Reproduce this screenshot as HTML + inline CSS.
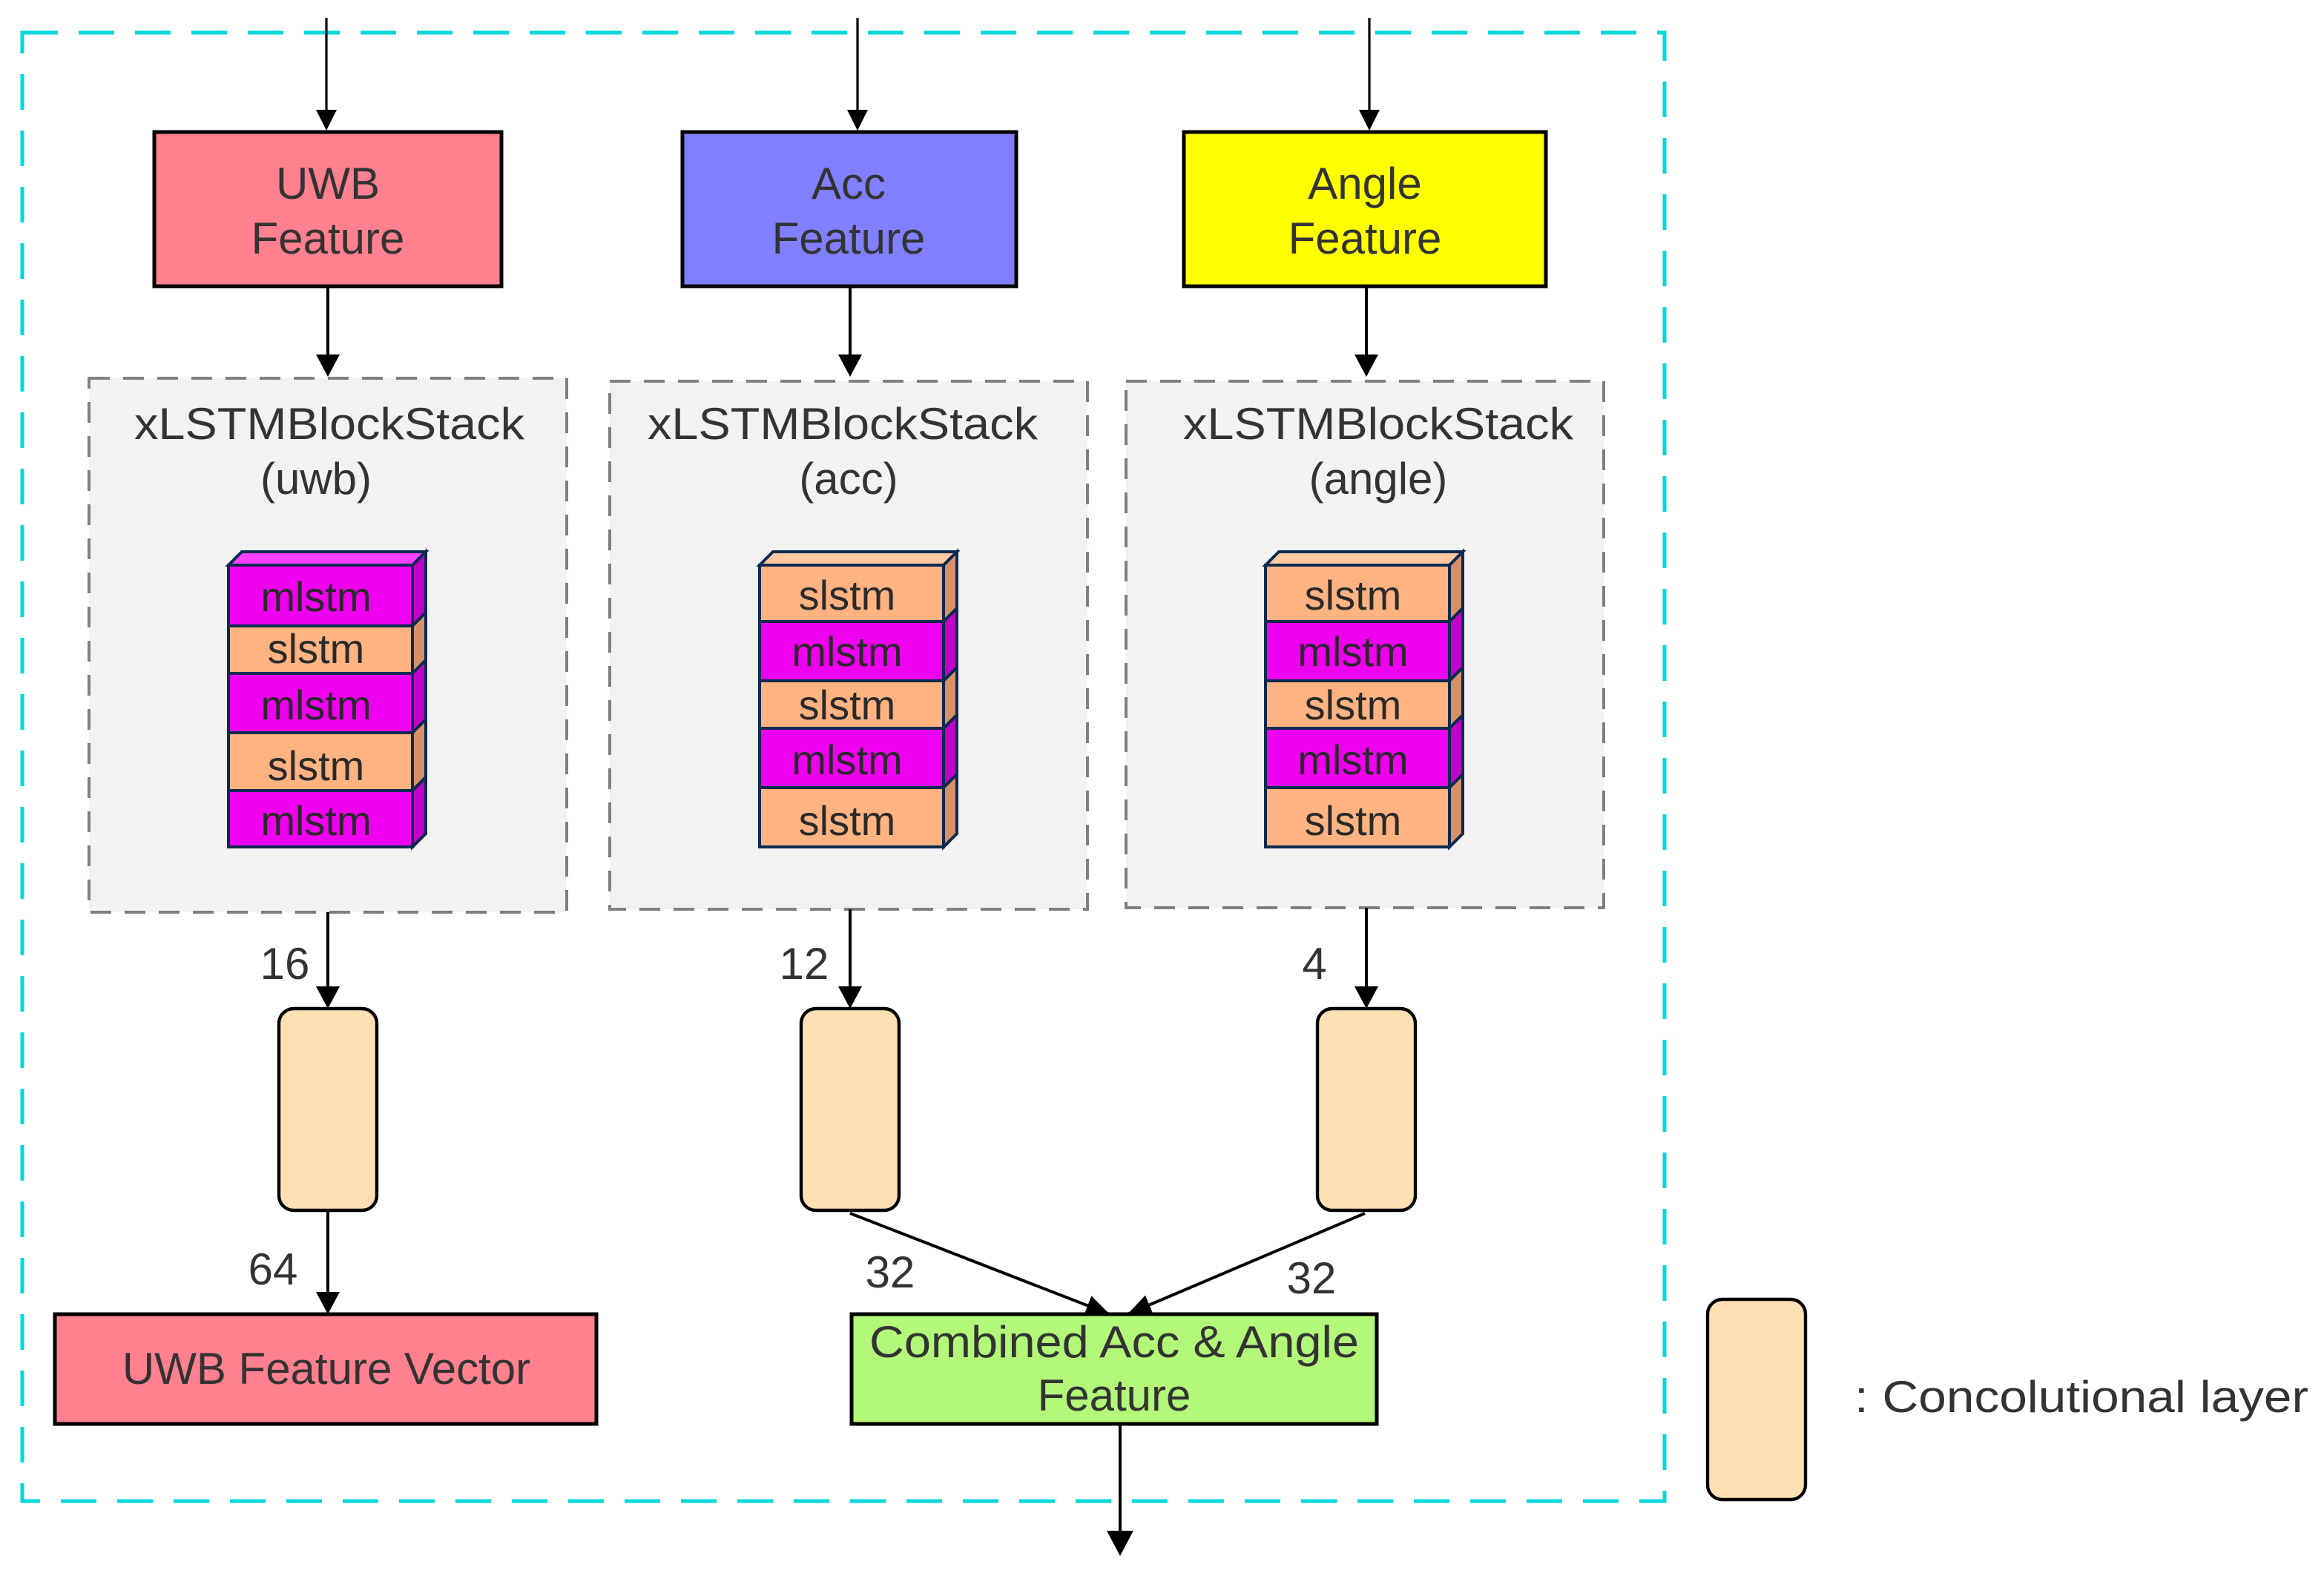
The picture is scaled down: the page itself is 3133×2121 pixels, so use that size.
<!DOCTYPE html>
<html><head><meta charset="utf-8"><style>
html,body{margin:0;padding:0;background:#fff;width:3133px;height:2121px;overflow:hidden}
svg{display:block}
text{font-family:"Liberation Sans",sans-serif;fill:#333;text-anchor:middle}
.lbl{font-size:30px}
.st{font-size:28px;fill:#2a2a2a}
</style></head><body>
<svg width="3133" height="2121" viewBox="0 0 1566.5 1060.5" xmlns="http://www.w3.org/2000/svg">
<defs>
<marker id="ar2" markerWidth="16" markerHeight="14" refX="16" refY="7" orient="auto" markerUnits="userSpaceOnUse" viewBox="0 0 16 14">
<path d="M0,0 L16,7 L0,14 z" fill="#000"/></marker>
</defs>

<rect x="15" y="22" width="1107" height="990" fill="none" stroke="#00d8dc" stroke-width="2.5" stroke-dasharray="24,14"/>

<g stroke="#000" stroke-width="1.6" fill="none">
<line x1="220" y1="12" x2="220" y2="78"/>
<line x1="578" y1="12" x2="578" y2="78"/>
<line x1="923" y1="12" x2="923" y2="78"/>
</g>
<g fill="#000">
<polygon points="213,74 227,74 220,88"/>
<polygon points="571,74 585,74 578,88"/>
<polygon points="916,74 930,74 923,88"/>
</g>

<rect x="104" y="89" width="234" height="104" fill="#ff808f" stroke="#000" stroke-width="2.5"/>
<text class="lbl" x="221" y="134">UWB</text><text class="lbl" x="221" y="171">Feature</text>
<rect x="460" y="89" width="225" height="104" fill="#8080ff" stroke="#000" stroke-width="2.5"/>
<text class="lbl" x="572" y="134">Acc</text><text class="lbl" x="572" y="171">Feature</text>
<rect x="798" y="89" width="244" height="104" fill="#ffff00" stroke="#000" stroke-width="2.5"/>
<text class="lbl" x="920" y="134">Angle</text><text class="lbl" x="920" y="171">Feature</text>

<g stroke="#000" stroke-width="2" fill="none">
<line x1="221" y1="193" x2="221" y2="242"/>
<line x1="573" y1="193" x2="573" y2="242"/>
<line x1="921" y1="193" x2="921" y2="242"/>
</g>
<g fill="#000">
<polygon points="213,239 229,239 221,254"/>
<polygon points="565,239 581,239 573,254"/>
<polygon points="913,239 929,239 921,254"/>
</g>

<g fill="#f2f2f2" stroke="#808080" stroke-width="2" stroke-dasharray="14,9">
<rect x="60" y="255" width="322" height="360"/>
<rect x="411" y="257" width="322" height="356"/>
<rect x="759" y="257" width="322" height="355"/>
</g>
<text class="lbl" x="222" y="296" textLength="263" lengthAdjust="spacingAndGlyphs">xLSTMBlockStack</text>
<text class="lbl" x="213" y="333">(uwb)</text>
<text class="lbl" x="568" y="296" textLength="263" lengthAdjust="spacingAndGlyphs">xLSTMBlockStack</text>
<text class="lbl" x="572" y="333">(acc)</text>
<text class="lbl" x="929" y="296" textLength="263" lengthAdjust="spacingAndGlyphs">xLSTMBlockStack</text>
<text class="lbl" x="929" y="333">(angle)</text>

<g stroke="#0a2a50" stroke-width="2">
<polygon points="154,381 163,372 287,372 278,381" fill="#ff40ff"/>
<polygon points="278,381 287,372 287,413 278,422" fill="#c000c8"/>
<rect x="154" y="381" width="124" height="41" fill="#ee00ee"/>
<polygon points="278,422 287,413 287,445 278,454" fill="#d89068"/>
<rect x="154" y="422" width="124" height="32" fill="#ffb380"/>
<polygon points="278,454 287,445 287,485 278,494" fill="#c000c8"/>
<rect x="154" y="454" width="124" height="40" fill="#ee00ee"/>
<polygon points="278,494 287,485 287,524 278,533" fill="#d89068"/>
<rect x="154" y="494" width="124" height="39" fill="#ffb380"/>
<polygon points="278,533 287,524 287,562 278,571" fill="#c000c8"/>
<rect x="154" y="533" width="124" height="38" fill="#ee00ee"/>
</g>
<text class="st" x="213" y="412">mlstm</text>
<text class="st" x="213" y="447">slstm</text>
<text class="st" x="213" y="485">mlstm</text>
<text class="st" x="213" y="526">slstm</text>
<text class="st" x="213" y="563">mlstm</text>

<g stroke="#0a2a50" stroke-width="2">
<polygon points="512,381 521,372 645,372 636,381" fill="#ffc8a0"/>
<polygon points="636,381 645,372 645,410 636,419" fill="#d89068"/>
<rect x="512" y="381" width="124" height="38" fill="#ffb380"/>
<polygon points="636,419 645,410 645,450 636,459" fill="#c000c8"/>
<rect x="512" y="419" width="124" height="40" fill="#ee00ee"/>
<polygon points="636,459 645,450 645,482 636,491" fill="#d89068"/>
<rect x="512" y="459" width="124" height="32" fill="#ffb380"/>
<polygon points="636,491 645,482 645,522 636,531" fill="#c000c8"/>
<rect x="512" y="491" width="124" height="40" fill="#ee00ee"/>
<polygon points="636,531 645,522 645,562 636,571" fill="#d89068"/>
<rect x="512" y="531" width="124" height="40" fill="#ffb380"/>
</g>
<text class="st" x="571" y="411">slstm</text>
<text class="st" x="571" y="449">mlstm</text>
<text class="st" x="571" y="485">slstm</text>
<text class="st" x="571" y="522">mlstm</text>
<text class="st" x="571" y="563">slstm</text>

<g stroke="#0a2a50" stroke-width="2">
<polygon points="853,381 862,372 986,372 977,381" fill="#ffc8a0"/>
<polygon points="977,381 986,372 986,410 977,419" fill="#d89068"/>
<rect x="853" y="381" width="124" height="38" fill="#ffb380"/>
<polygon points="977,419 986,410 986,450 977,459" fill="#c000c8"/>
<rect x="853" y="419" width="124" height="40" fill="#ee00ee"/>
<polygon points="977,459 986,450 986,482 977,491" fill="#d89068"/>
<rect x="853" y="459" width="124" height="32" fill="#ffb380"/>
<polygon points="977,491 986,482 986,522 977,531" fill="#c000c8"/>
<rect x="853" y="491" width="124" height="40" fill="#ee00ee"/>
<polygon points="977,531 986,522 986,562 977,571" fill="#d89068"/>
<rect x="853" y="531" width="124" height="40" fill="#ffb380"/>
</g>
<text class="st" x="912" y="411">slstm</text>
<text class="st" x="912" y="449">mlstm</text>
<text class="st" x="912" y="485">slstm</text>
<text class="st" x="912" y="522">mlstm</text>
<text class="st" x="912" y="563">slstm</text>

<g stroke="#000" stroke-width="2" fill="none">
<line x1="221" y1="615" x2="221" y2="668"/>
<line x1="573" y1="613" x2="573" y2="668"/>
<line x1="921" y1="612" x2="921" y2="668"/>
</g>
<g fill="#000">
<polygon points="213,665 229,665 221,680"/>
<polygon points="565,665 581,665 573,680"/>
<polygon points="913,665 929,665 921,680"/>
</g>
<text class="lbl" x="192" y="660">16</text>
<text class="lbl" x="542" y="660">12</text>
<text class="lbl" x="886" y="660">4</text>

<g fill="#ffe0b3" stroke="#000" stroke-width="2.2">
<rect x="188" y="680" width="66" height="136" rx="10"/>
<rect x="540" y="680" width="66" height="136" rx="10"/>
<rect x="888" y="680" width="66" height="136" rx="10"/>
<rect x="1151" y="876" width="66" height="135" rx="10"/>
</g>

<line x1="221" y1="816" x2="221" y2="874" stroke="#000" stroke-width="2"/>
<polygon points="213,871 229,871 221,886" fill="#000"/>
<text class="lbl" x="184" y="866">64</text>
<rect x="37" y="886" width="365" height="74" fill="#ff808f" stroke="#000" stroke-width="2.5"/>
<text class="lbl" x="220" y="933">UWB Feature Vector</text>

<g stroke="#000" stroke-width="2" fill="none">
<line x1="573" y1="818" x2="748" y2="886" marker-end="url(#ar2)"/>
<line x1="920" y1="818" x2="760" y2="886" marker-end="url(#ar2)"/>
<line x1="755" y1="960" x2="755" y2="1035"/>
</g>
<polygon points="746,1032 764,1032 755,1049" fill="#000"/>
<text class="lbl" x="600" y="868">32</text>
<text class="lbl" x="884" y="872">32</text>
<rect x="574" y="886" width="354" height="74" fill="#b3f878" stroke="#000" stroke-width="2.5"/>
<text class="lbl" x="751" y="915" textLength="330" lengthAdjust="spacingAndGlyphs">Combined Acc &amp; Angle</text>
<text class="lbl" x="751" y="951">Feature</text>

<text class="lbl" x="1250" y="952" style="text-anchor:start" textLength="306" lengthAdjust="spacingAndGlyphs">:  Concolutional layer</text>
</svg>
</body></html>
